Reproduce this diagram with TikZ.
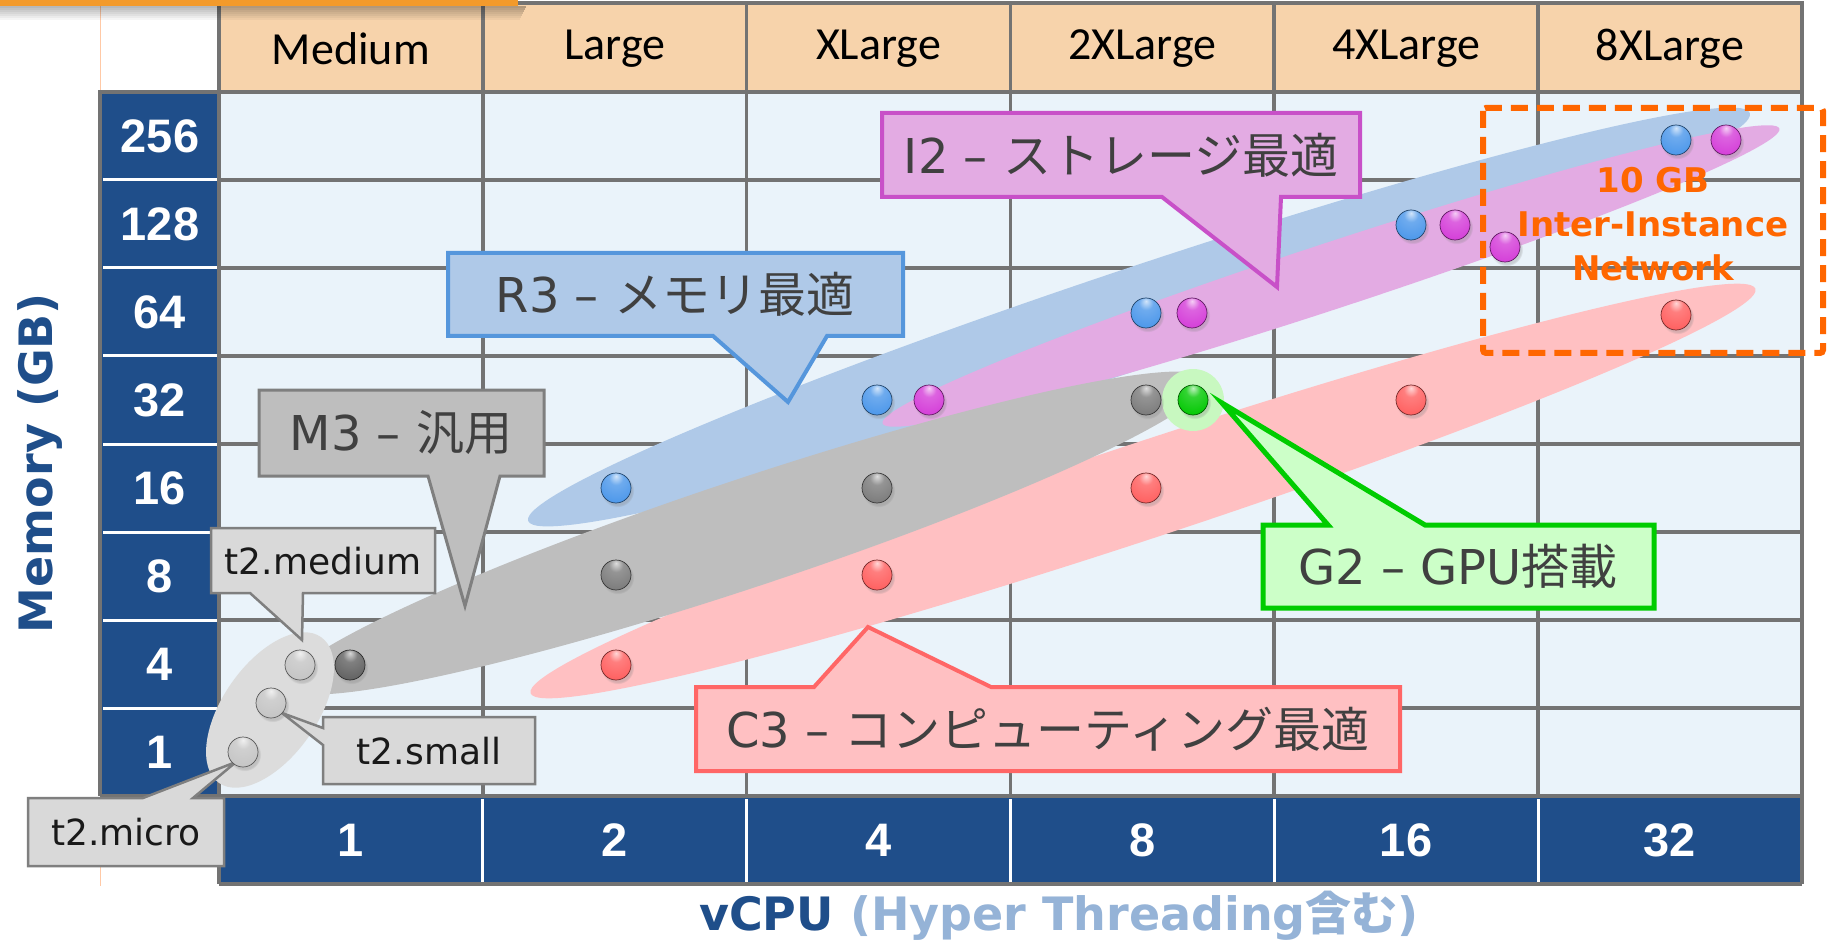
\documentclass[tikz,border=0pt]{standalone}
\usepackage{fontspec}
\setmainfont{DejaVu Sans}
\newfontfamily\cjk{Noto Sans CJK JP}
\newfontfamily\hdrfont{Carlito}
\newfontfamily\arl{Liberation Sans}
\usetikzlibrary{shadows}
\makeatletter
\pgfdeclareradialshading[tikz@ball]{gloss}{\pgfqpoint{0bp}{20bp}}{%
  color(0bp)=(tikz@ball!25!white); color(12bp)=(tikz@ball!80!white);
  color(38bp)=(tikz@ball); color(55bp)=(tikz@ball!75!black);
  color(68bp)=(tikz@ball!55!black); color(80bp)=(tikz@ball!50!black)}
\makeatother
\definecolor{bluec}{HTML}{1F4E8A}
\definecolor{lightbluec}{HTML}{95B3D7}
\definecolor{hdrc}{HTML}{F7D3AB}
\definecolor{cellc}{HTML}{EAF3FA}
\definecolor{gridc}{HTML}{737373}
\definecolor{txtc}{HTML}{404040}
\definecolor{orangec}{HTML}{FF6600}
\definecolor{barc}{HTML}{F39A2B}
\definecolor{bandblue}{HTML}{AFC9E8}
\definecolor{bandpurple}{HTML}{E3ABE3}
\definecolor{bandgray}{HTML}{BEBEBE}
\definecolor{bandred}{HTML}{FFC0C2}
\definecolor{bandtwo}{HTML}{DCDCDC}
\definecolor{halo}{HTML}{C8F8C0}
\definecolor{rline}{HTML}{5596DC}
\definecolor{iline}{HTML}{C850C8}
\definecolor{mline}{HTML}{7F7F7F}
\definecolor{cline}{HTML}{FF6666}
\definecolor{gline}{HTML}{00CC00}
\definecolor{gfill}{HTML}{CCFFC8}
\definecolor{tfill}{HTML}{D9D9D9}
\definecolor{ballblue}{HTML}{4A96EA}
\definecolor{ballpurple}{HTML}{D43CD8}
\definecolor{ballgray}{HTML}{7A7A7A}
\definecolor{balldark}{HTML}{606060}
\definecolor{ballred}{HTML}{FF5E5E}
\definecolor{ballgreen}{HTML}{00C800}
\definecolor{balllight}{HTML}{C4C4C4}
\tikzset{
  gridline/.style={draw=gridc, line width=3.5pt},
  callout/.style n args={2}{fill=#1, draw=#2, line width=4pt, line join=miter},
  ctext/.style={text=txtc, font=\fontsize{48}{56}\selectfont, inner sep=0pt},
  ttext/.style={text=black!90, font=\fontsize{36}{42}\selectfont, inner sep=0pt},
  numtxt/.style={text=white, font=\arl\bfseries\fontsize{47}{50}\selectfont, inner sep=0pt},
  hdrtxt/.style={text=black, font=\hdrfont\fontsize{46}{50}\selectfont, inner sep=0pt},
  orb/.style={circle, minimum size=30pt, inner sep=0pt, ball color=#1, shading=gloss,
    draw=#1!45!black, line width=0.7pt,
    circular drop shadow={shadow xshift=1.5pt, shadow yshift=-2.5pt, opacity=0.3}},
}
\begin{document}
\begin{tikzpicture}[x=1pt,y=-1pt]
\useasboundingbox (0,0) rectangle (1829,941);
\fill[white] (0,0) rectangle (1829,941);
% table backgrounds
\fill[hdrc] (219,3) rectangle (1802,92);
\fill[cellc] (219,92) rectangle (1802,796);
\fill[bluec] (100,92) rectangle (219,796);
\fill[bluec] (219,796) rectangle (1802,884);
\foreach \k in {1,...,7} \draw[white, line width=3pt] (103,{92+88*\k}) -- (219,{92+88*\k});
\foreach \i in {1,...,5} \draw[white, line width=3pt] ({219+263.8*\i},799) -- ({219+263.8*\i},882);
% grid lines
\foreach \k in {0,...,8} \draw[gridline] (219,{92+88*\k}) -- (1802,{92+88*\k});
\foreach \i in {1,...,5} \draw[gridline] ({219+263.8*\i},3) -- ({219+263.8*\i},796);
\draw[gridline] (219,3) -- (219,884);
\draw[gridline] (1802,3) -- (1802,884);
\draw[gridline] (217.25,3) -- (1803.75,3);
\draw[gridline] (219,884) -- (1802,884);
\draw[gridline] (100,92) -- (219,92);
\draw[gridline] (100,90.25) -- (100,796);
\draw[gridline] (100,796) -- (219,796);
\draw[orangec!35, line width=1pt] (100,0) -- (100,90);
\draw[orangec!35, line width=1pt] (100,866) -- (100,886);
% top-left bar with shadow
\foreach \j in {0,...,6} \fill[black, opacity={0.28*(1-\j/7)}] (0,{6+2*\j}) rectangle ({526-\j},{8+2*\j});
\fill[barc] (0,0) rectangle (518,6);
% labels
\foreach \v [count=\i from 0] in {Medium,Large,XLarge,2XLarge,4XLarge,8XLarge}
  \node[hdrtxt] (h\i) at ({350.9+263.8*\i},49) {\v};
\foreach \v [count=\k from 0] in {256,128,64,32,16,8,4,1}
  \node[numtxt] (m\k) at (160,{136+88*\k}) {\v};
\foreach \v [count=\i from 0] in {1,2,4,8,16,32}
  \node[numtxt] (c\i) at ({350.9+263.8*\i},840) {\v};
\node[rotate=90, anchor=base, text=bluec, font=\bfseries\fontsize{46}{50}\selectfont] (ylab) at (52,463) {Memory (GB)};
\node[anchor=base, font=\bfseries\fontsize{46}{50}\selectfont] (xlab) at (1059,930)
  {\textcolor{bluec}{vCPU} \textcolor{lightbluec}{(Hyper Threading{\cjk\bfseries 含む})}};
% bands
\fill[bandblue, rotate around={18.46:(1139,317)}] (1139,317) ellipse [x radius=644, y radius=50];
\fill[bandpurple, rotate around={18.2:(1331,276)}] (1331,276) ellipse [x radius=472, y radius=33];
\fill[bandred, rotate around={18.27:(1143,491)}] (1143,491) ellipse [x radius=645, y radius=48];
\fill[bandgray, rotate around={18.4:(747,533)}] (747,533) ellipse [x radius=485, y radius=54];
\fill[bandtwo, rotate around={55:(270,710)}] (270,710) ellipse [x radius=89, y radius=47];
\fill[halo] (1193,400) circle [radius=31];
% callouts
\path[callout={bandblue}{rline}] (448,253) -- (903,253) -- (903,336) -- (827,336) -- (788,402) -- (713,336) -- (448,336) -- cycle;
\node[ctext] (tR) at (675,294) {R3 – {\cjk メモリ最適}};
\path[callout={bandpurple}{iline}] (882,113) -- (1360,113) -- (1360,197) -- (1281,197) -- (1277,287) -- (1162,197) -- (882,197) -- cycle;
\node[ctext] (tI) at (1121,155) {I2 – {\cjk ストレージ最適}};
\path[callout={bandgray}{mline}, line width=3pt] (259,390) -- (544,390) -- (544,476) -- (500,476) -- (465,606) -- (428,476) -- (259,476) -- cycle;
\node[ctext] (tM) at (401,433) {M3 – {\cjk 汎用}};
\path[callout={tfill}{mline}, line width=2.5pt] (211,528) -- (435,528) -- (435,593) -- (303,593) -- (302,640) -- (250,593) -- (211,593) -- cycle;
\node[ttext] (tmed) at (323,561) {t2.medium};
\path[callout={tfill}{mline}, line width=2.5pt] (323,717) -- (535,717) -- (535,784) -- (323,784) -- (323,745) -- (282,713) -- (323,728) -- cycle;
\node[ttext] (tsml) at (429,751) {t2.small};
\path[callout={tfill}{mline}, line width=2.5pt] (28,798) -- (143,798) -- (236,762) -- (193,798) -- (224,798) -- (224,866) -- (28,866) -- cycle;
\node[ttext] (tmic) at (126,832) {t2.micro};
\path[callout={gfill}{gline}, line width=5pt] (1263,525) -- (1328,525) -- (1222,403) -- (1425,525) -- (1654,525) -- (1654,608) -- (1263,608) -- cycle;
\node[ctext] (tG) at (1458,566) {G2 – GPU{\cjk 搭載}};
\path[callout={bandred}{cline}] (696,687) -- (814,687) -- (868,627) -- (991,687) -- (1400,687) -- (1400,771) -- (696,771) -- cycle;
\node[ctext] (tC) at (1048,729) {C3 – {\cjk コンピューティング最適}};
% balls
\node[orb=ballblue] (bb1) at (616,488) {};
\node[orb=ballblue] (bb2) at (877,400) {};
\node[orb=ballblue] (bb3) at (1146,313) {};
\node[orb=ballblue] (bb4) at (1411,225) {};
\node[orb=ballblue] (bb5) at (1676,140) {};
\node[orb=ballpurple] (pb1) at (929,400) {};
\node[orb=ballpurple] (pb2) at (1192,313) {};
\node[orb=ballpurple] (pb3) at (1455,225) {};
\node[orb=ballpurple] (pb4) at (1505,247) {};
\node[orb=ballpurple] (pb5) at (1726,140) {};
\node[orb=ballgray] (gb1) at (616,575) {};
\node[orb=ballgray] (gb2) at (877,488) {};
\node[orb=ballgray] (gb3) at (1146,400) {};
\node[orb=balldark] (gb0) at (350,665) {};
\node[orb=ballgreen] (grb) at (1193,400) {};
\node[orb=ballred] (rb1) at (616,665) {};
\node[orb=ballred] (rb2) at (877,575) {};
\node[orb=ballred] (rb3) at (1146,488) {};
\node[orb=ballred] (rb4) at (1411,400) {};
\node[orb=ballred] (rb5) at (1676,315) {};
\node[orb=balllight] (lb1) at (300,665) {};
\node[orb=balllight] (lb2) at (271,703) {};
\node[orb=balllight] (lb3) at (243,752) {};
% network box
\draw[orangec, line width=6pt, dash pattern=on 17pt off 9pt, rounded corners=3pt] (1483,108) rectangle (1823,353);
\node[align=center, text=orangec, font=\bfseries\fontsize{34}{44}\selectfont] (net) at (1653,224) {10 GB\\Inter-Instance\\Network};
\end{tikzpicture}
\end{document}
